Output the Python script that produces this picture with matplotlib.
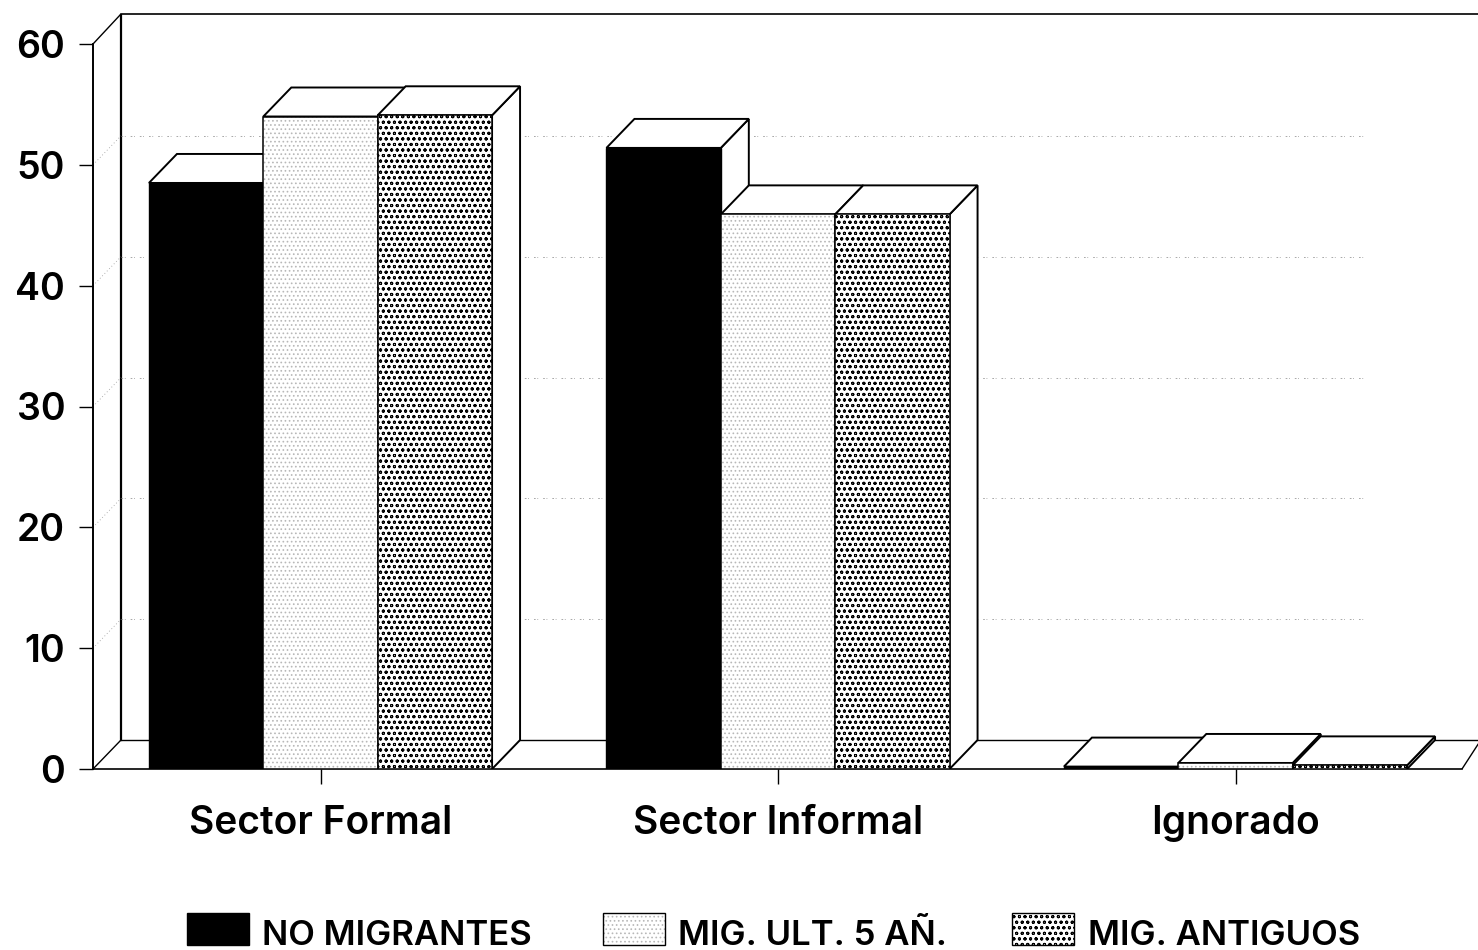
import matplotlib
matplotlib.use("Agg")
import matplotlib.pyplot as plt
from matplotlib.patches import Polygon, Rectangle

categories = ["Sector Formal", "Sector Informal", "Ignorado"]
series_names = ["NO MIGRANTES", "MIG. ULT. 5 AÑ.", "MIG. ANTIGUOS"]
no_migrantes = [48.5, 51.4, 0.2]
mig_ult_5 = [54.0, 45.9, 0.5]
mig_antiguos = [54.1, 45.9, 0.3]
yticks = [0, 10, 20, 30, 40, 50, 60]

W, H = 1478, 950
PX_X = 457.5          # px per category
PX_Y = 725 / 60       # px per y unit
DX = 28 / PX_X        # depth offset
DY = 29 / PX_Y
BAR_W = 0.25

plt.rcParams["font.family"] = ["Inter", "DejaVu Sans"]
plt.rcParams["hatch.linewidth"] = 0.7

fig = plt.figure(figsize=(W / 100, H / 100), dpi=100)
ax = fig.add_axes([93 / W, (H - 769) / H, (W - 93) / W, 755 / H])
ax.set_xlim((93 - 320.5) / PX_X, (W - 320.5) / PX_X)
ax.set_ylim(0, 755 / PX_Y)
ax.patch.set_visible(False)

for s in ["top", "right"]:
    ax.spines[s].set_visible(False)
ax.spines["left"].set_bounds(0, 60)
ax.spines["left"].set_linewidth(1.4)
ax.spines["bottom"].set_linewidth(1.2)
ax.spines["bottom"].set_bounds(ax.get_xlim()[0], (1462 - 320.5) / PX_X)

ax.set_yticks(yticks)
ax.set_xticks(range(len(categories)), categories)
ax.tick_params(axis="y", length=10, width=1, pad=10, labelsize=27)
ax.tick_params(axis="x", length=11, width=1, pad=15, labelsize=28)
for t in ax.get_xticklabels() + ax.get_yticklabels():
    t.set_fontweight("semibold")

x0, x1 = ax.get_xlim()
y_top = ax.get_ylim()[1]
wx = x0 + DX  # back wall left edge

# walls and floor
ax.plot([wx, wx], [DY, y_top], color="k", lw=1.6, zorder=1)
ax.plot([wx, x1], [y_top, y_top], color="k", lw=1.2, clip_on=False, zorder=1)
ax.plot([wx, x1], [DY, DY], color="k", lw=1.0, zorder=1)
ax.plot([x0, wx], [60, y_top], color="k", lw=1.0, zorder=1)
ax.plot([x0, wx], [0, DY], color="k", lw=1.0, zorder=1)
ax.plot([(1462 - 320.5) / PX_X, x1], [0, DY * 0.85], color="k", lw=1.0, zorder=1)

# gridlines on back wall
for v in yticks[1:-1]:
    ax.plot([x0, wx], [v, v + DY], color="0.6", lw=0.6, ls=(0, (1, 3)), zorder=1)
    ax.plot([wx, (1365 - 320.5) / PX_X], [v + DY, v + DY], color="0.6", lw=0.6,
            ls=(0, (2, 2, 1, 6)), zorder=1)

styles = [
    dict(color="black", hatch=None, dots=None),
    dict(color="white", hatch="....", dots="0.72"),
    dict(color="white", hatch="ooo", dots="black"),
]
values = [no_migrantes, mig_ult_5, mig_antiguos]

z = 2
for g in range(len(categories)):
    for i, vals in enumerate(values):
        st = styles[i]
        v = vals[g]
        xc = g + (i - 1) * BAR_W
        xl, xr = xc - BAR_W / 2, xc + BAR_W / 2
        # side and top faces first, then the front
        ax.add_patch(Polygon([(xr, 0), (xr + DX, DY), (xr + DX, v + DY), (xr, v)],
                             fc="white", ec="k", lw=1.4, zorder=z))
        ax.add_patch(Polygon([(xl, v), (xl + DX, v + DY), (xr + DX, v + DY), (xr, v)],
                             fc="white", ec="k", lw=1.4, zorder=z))
        if st["hatch"]:
            ax.bar(xc, v, BAR_W, color="white", edgecolor=st["dots"], hatch=st["hatch"],
                   linewidth=0, zorder=z)
            ax.bar(xc, v, BAR_W, fill=False, edgecolor="k", linewidth=1.1, zorder=z)
        else:
            ax.bar(xc, v, BAR_W, color="black", edgecolor="k", linewidth=1.0, zorder=z)
        z += 1

# legend
legend_x = [187, 603, 1012]
text_x = [262, 678, 1088]
to_fig = fig.transFigure
for name, st, lx, tx in zip(series_names, styles, legend_x, text_x):
    box = dict(transform=to_fig, clip_on=False)
    rect = (lx / W, (H - 945) / H)
    if st["hatch"]:
        fig.add_artist(Rectangle(rect, 62 / W, 32 / H, fc="white", ec=st["dots"],
                                 hatch=st["hatch"], lw=0, **box))
        fig.add_artist(Rectangle(rect, 62 / W, 32 / H, fill=False, ec="k", lw=1.0, **box))
    else:
        fig.add_artist(Rectangle(rect, 62 / W, 32 / H, fc="black", ec="k", lw=1.0, **box))
    fig.text(tx / W, (H - 945) / H, name, fontsize=25, fontweight="semibold",
             ha="left", va="baseline")

fig.savefig("out.png", dpi=100)
